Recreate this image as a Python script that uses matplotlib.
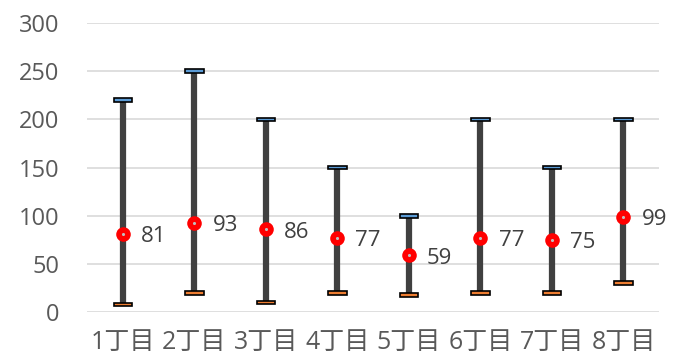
import numpy as np
import matplotlib.pyplot as plt

plt.rcParams['font.family'] = ['Open Sans', 'Noto Sans CJK JP', 'DejaVu Sans']

districts = ['1丁目', '2丁目', '3丁目', '4丁目', '5丁目', '6丁目', '7丁目', '8丁目']
high = [220, 250, 200, 150, 100, 200, 150, 200]
low = [8, 20, 10, 20, 18, 20, 20, 30]
average = [81, 93, 86, 77, 59, 77, 75, 99]

x = np.arange(len(districts))

fig = plt.figure(figsize=(6.81, 3.6), dpi=100)
ax = fig.add_axes([0.128, 0.133, 0.84, 0.803])

# high-low range line
ax.vlines(x, low, high, color='#404040', linewidth=4.5, zorder=2)
# high / low caps
for xi, h, l in zip(x, high, low):
    for val, col in ((h, '#5b9bd5'), (l, '#ed7d31')):
        ax.add_patch(plt.Rectangle((xi - 0.13, val - 1.9), 0.26, 3.8,
                                   facecolor=col, edgecolor='black',
                                   linewidth=1.2, zorder=4))
# average points
ax.scatter(x, average, s=110, color='#ff0000', zorder=5, linewidths=0)
ax.scatter(x, average, s=5, color='#bfbfbf', zorder=6, linewidths=0)
for xi, a in zip(x, average):
    ax.annotate(str(a), (xi, a), xytext=(13, -2), textcoords='offset points',
                ha='left', va='center', fontsize=16, color='#404040')

ax.set_xlim(-0.5, len(districts) - 0.5)
ax.set_ylim(0, 300)
ax.set_yticks(range(0, 301, 50))
ax.set_xticks(x)
ax.set_xticklabels(districts, fontsize=18, color='#595959',
                   family=['Open Sans', 'Noto Sans CJK JP'])
ax.tick_params(axis='y', labelsize=17, labelcolor='#595959', length=0, pad=20)
ax.tick_params(axis='x', length=0, pad=13)
ax.grid(axis='y', color='#d9d9d9', linewidth=1.2)
ax.set_axisbelow(True)
for s in ax.spines.values():
    s.set_visible(False)

fig.savefig('out.png', dpi=100)
